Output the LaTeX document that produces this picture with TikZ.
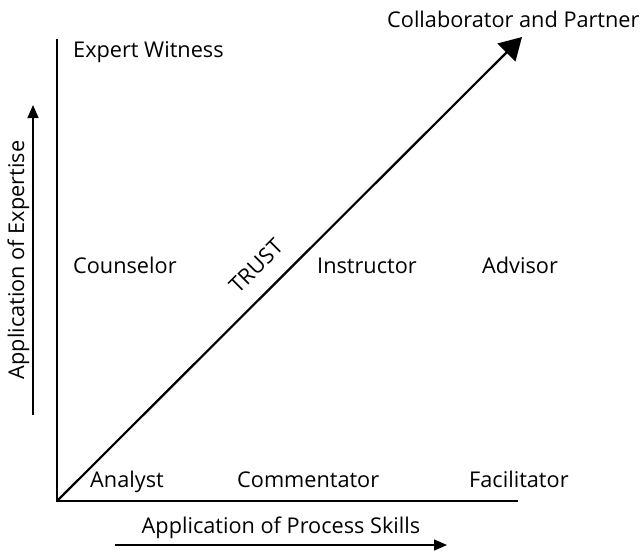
\documentclass[tikz,border=0pt]{standalone}
\usepackage{fontspec}
\setmainfont{Open Sans}
\usetikzlibrary{arrows.meta,positioning}
\tikzset{font=\fontsize{21.7}{25}\selectfont}
\tikzset{role/.style={inner sep=0pt,anchor=base west}}
\tikzset{axislabel/.style={inner sep=0pt,anchor=base}}
\tikzset{pointer/.style={line width=1.3pt,-{Triangle[length=13pt,width=11pt]}}}

\begin{document}
\begin{tikzpicture}[x=1pt,y=-1pt]
  \useasboundingbox (0,0) rectangle (643,550);
  \coordinate (origin) at (57,501);
  \coordinate (ytop) at (57,39);
  \coordinate (xend) at (518,501);
  \coordinate (trusttip) at (522,37);

  % axes
  \draw[line width=1.1pt] (ytop)--(origin)--(xend);
  \draw[line width=2.2pt,-{Triangle[length=22pt,width=25pt]}] (origin)--(trusttip);

  % direction arrows
  \coordinate (upfrom) at (33,415);
  \coordinate (upto) at (33,105);
  \coordinate (rightfrom) at (115,545);
  \coordinate (rightto) at (447,545);
  \draw[pointer] (upfrom)--(upto);
  \draw[pointer] (rightfrom)--(rightto);

  \node[axislabel,rotate=90] (expertise) at (24,260) {Application of Expertise};
  \node[axislabel] (process) at (281,533) {Application of Process Skills};

  % roles
  \node[role] (witness) at (73,57) {Expert Witness};
  \node[role] (partner) at (387,27) {Collaborator and Partner};
  \node[role] (counselor) at (73,273) {Counselor};
  \node[role] (instructor) at (317,273) {Instructor};
  \node[role] (advisor) at (482,273) {Advisor};
  \node[role] (analyst) at (90,487) {Analyst};
  \node[role] (commentator) at (237,487) {Commentator};
  \node[role] (facilitator) at (469,487) {Facilitator};

  \node[inner sep=0pt,rotate=45] (trust) at (256,266) {TRUST};
\end{tikzpicture}
\end{document}
